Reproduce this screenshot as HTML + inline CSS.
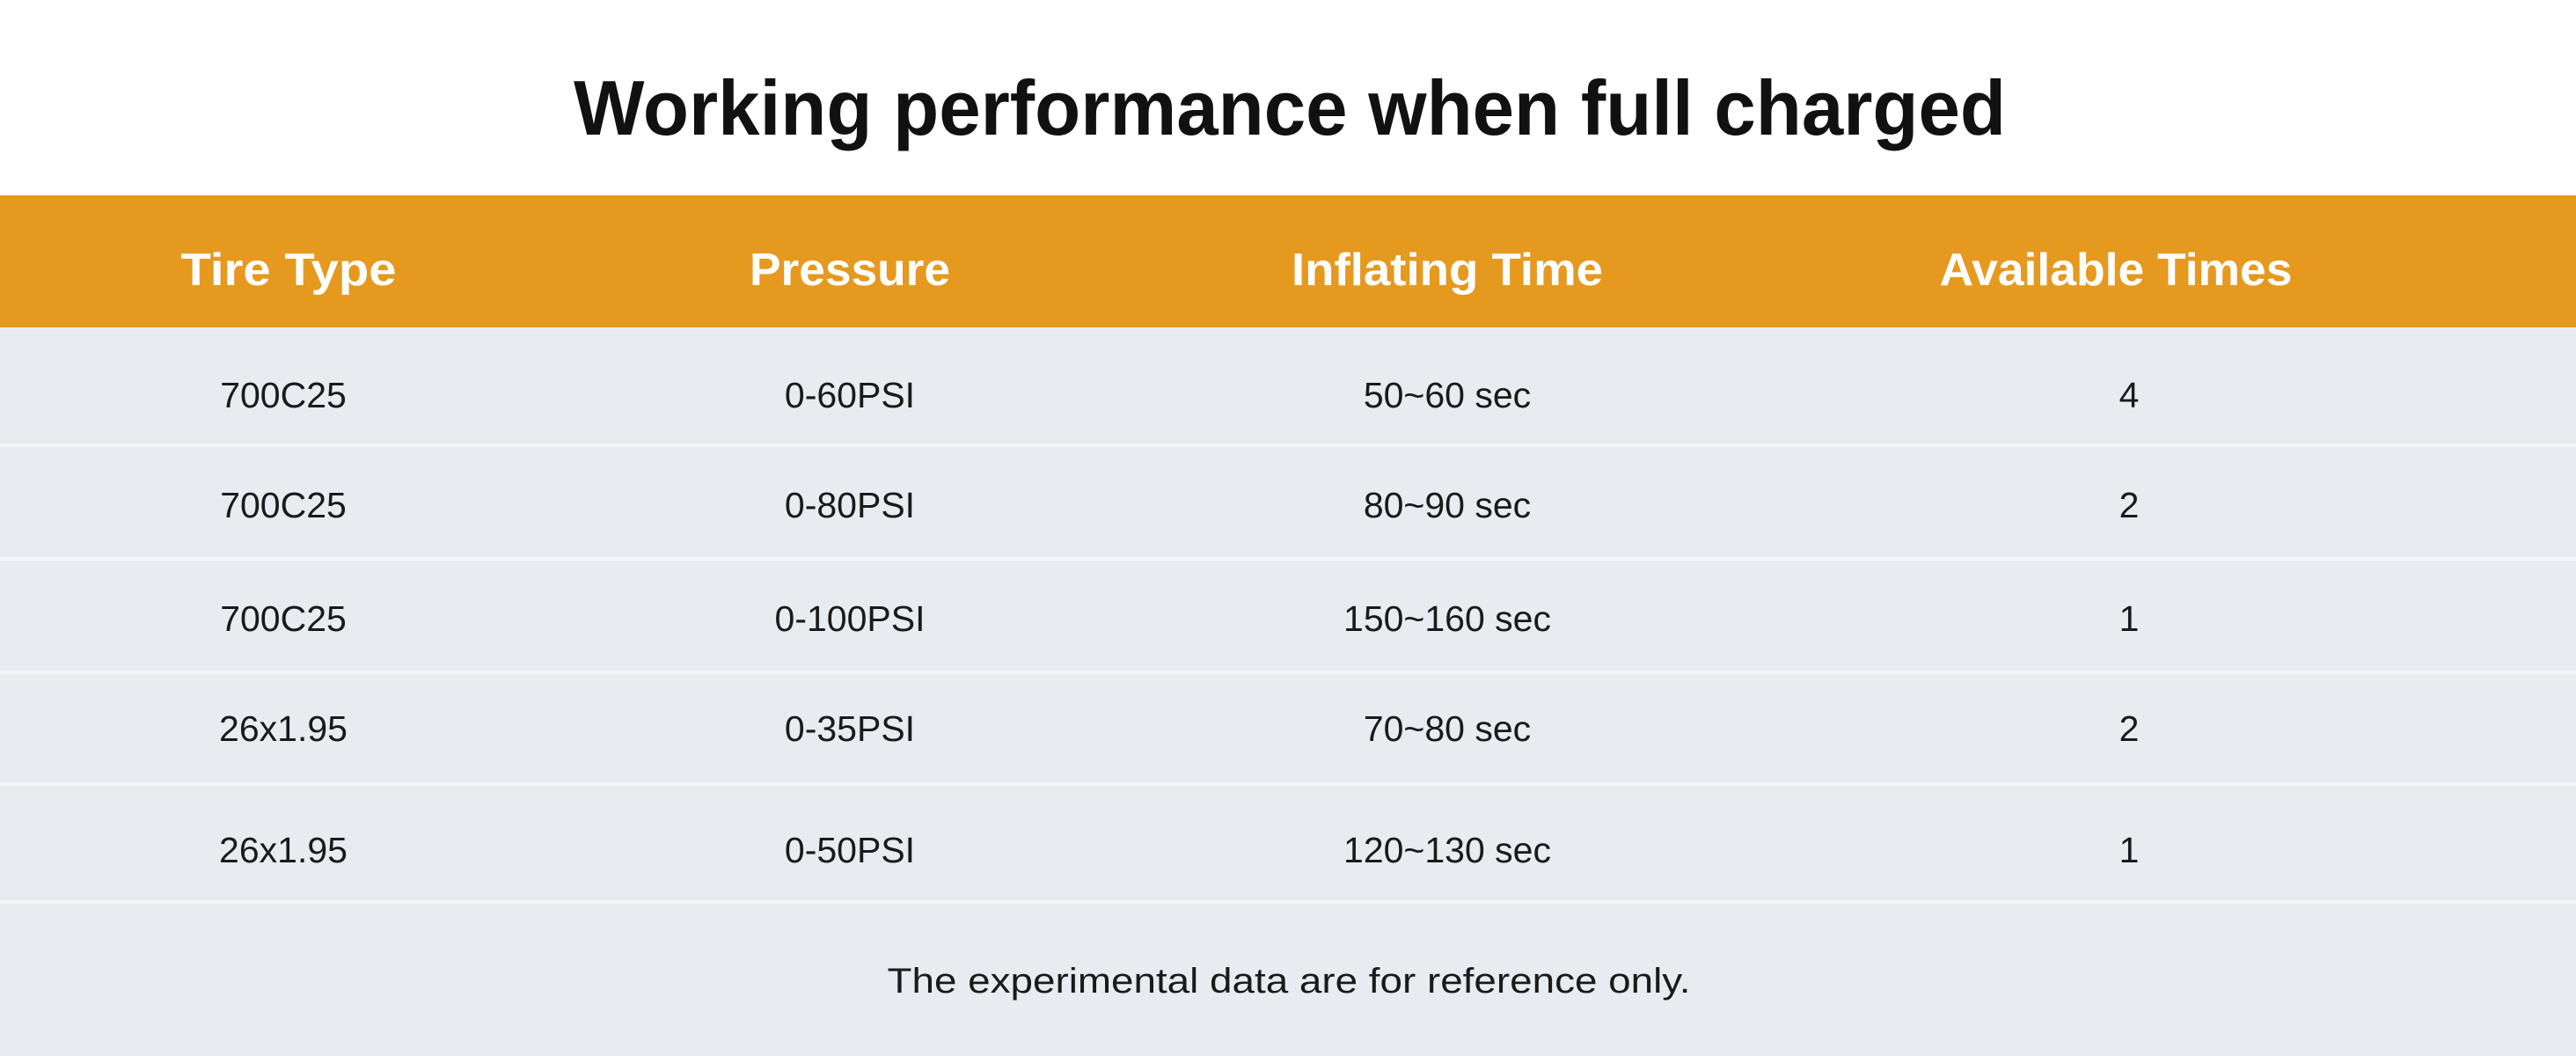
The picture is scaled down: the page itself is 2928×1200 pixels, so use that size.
<!DOCTYPE html>
<html><head><meta charset="utf-8"><style>
html,body{margin:0;padding:0;background:#fff;}
svg{display:block;}
</style></head><body>
<svg width="2928" height="1200" viewBox="0 0 2928 1200" xmlns="http://www.w3.org/2000/svg">
<rect x="0" y="0" width="2928" height="1200" fill="#ffffff"/>
<rect x="0" y="222" width="2928" height="150" fill="#e5991f"/>
<rect x="0" y="372" width="2928" height="828" fill="#e8ebf0"/>
<g fill="#f4f5f8">
<rect x="0" y="504" width="2928" height="4"/>
<rect x="0" y="633" width="2928" height="4"/>
<rect x="0" y="762" width="2928" height="4"/>
<rect x="0" y="889" width="2928" height="4"/>
<rect x="0" y="1023" width="2928" height="4"/>
</g>
<text x="1466" y="153" text-anchor="middle" font-family="Liberation Sans, sans-serif" font-weight="bold" font-size="88" fill="#111" textLength="1628" lengthAdjust="spacingAndGlyphs">Working performance when full charged</text>
<g font-family="Liberation Sans, sans-serif" font-weight="bold" font-size="52" fill="#fff" text-anchor="middle">
<text x="328" y="324" textLength="245" lengthAdjust="spacingAndGlyphs">Tire Type</text>
<text x="966" y="324" textLength="228" lengthAdjust="spacingAndGlyphs">Pressure</text>
<text x="1645" y="324" textLength="354" lengthAdjust="spacingAndGlyphs">Inflating Time</text>
<text x="2405" y="324" textLength="401" lengthAdjust="spacingAndGlyphs">Available Times</text>
</g>
<g font-family="Liberation Sans, sans-serif" font-size="41" fill="#1a1a1a" text-anchor="middle">
<text x="322" y="463">700C25</text><text x="966" y="463">0-60PSI</text><text x="1645" y="463">50~60 sec</text><text x="2420" y="463">4</text>
<text x="322" y="588">700C25</text><text x="966" y="588">0-80PSI</text><text x="1645" y="588">80~90 sec</text><text x="2420" y="588">2</text>
<text x="322" y="717">700C25</text><text x="966" y="717">0-100PSI</text><text x="1645" y="717">150~160 sec</text><text x="2420" y="717">1</text>
<text x="322" y="842">26x1.95</text><text x="966" y="842">0-35PSI</text><text x="1645" y="842">70~80 sec</text><text x="2420" y="842">2</text>
<text x="322" y="980">26x1.95</text><text x="966" y="980">0-50PSI</text><text x="1645" y="980">120~130 sec</text><text x="2420" y="980">1</text>
</g>
<text x="1465" y="1128" text-anchor="middle" font-family="Liberation Sans, sans-serif" font-size="40" fill="#1a1a1a" textLength="913" lengthAdjust="spacingAndGlyphs">The experimental data are for reference only.</text>
</svg>
</body></html>
